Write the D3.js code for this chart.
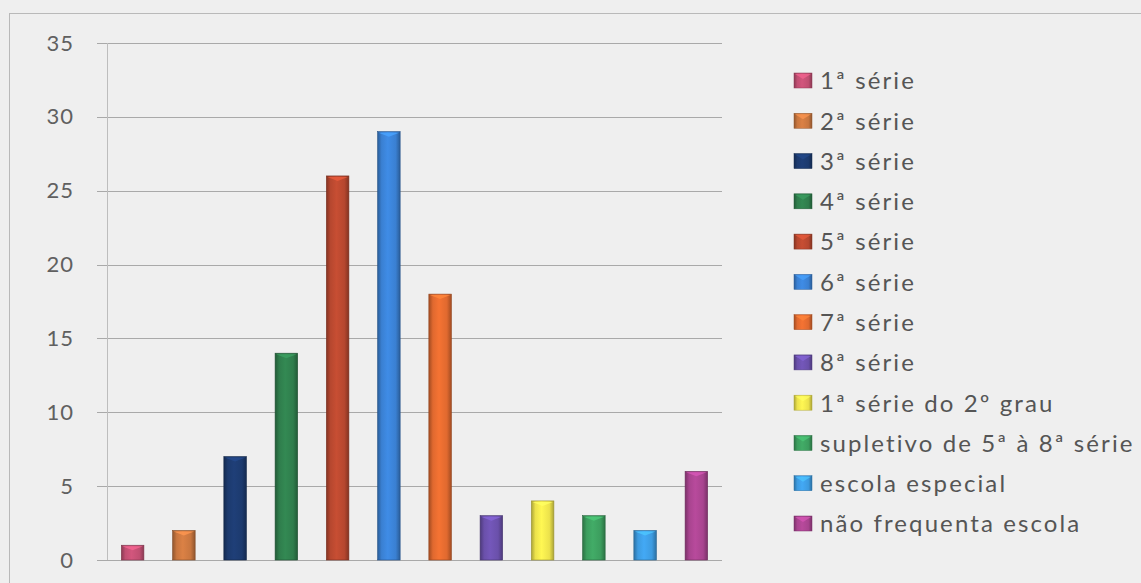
<!DOCTYPE html>
<html>
<head>
<meta charset="utf-8">
<script src="https://cdn.jsdelivr.net/npm/d3@7"></script>
<style>
  html, body { margin: 0; padding: 0; background: #efefef; }
  svg { display: block; }
</style>
</head>
<body>
<svg id="chart" width="1141" height="583"></svg>
<script>
// Categories (school grade) and number of people in each
const categories = [
  "1ª série", "2ª série", "3ª série", "4ª série", "5ª série", "6ª série",
  "7ª série", "8ª série", "1ª série do 2º grau", "supletivo de 5ª à 8ª série",
  "escola especial", "não frequenta escola"
];
const values = [1, 2, 7, 14, 26, 29, 18, 3, 4, 3, 2, 6];
const colors = [
  "#c04f72", "#c8763f", "#1c3a6e", "#2f7d4c", "#b6472f", "#3a80d2",
  "#e0692f", "#6a50aa", "#ece24c", "#3c9d5e", "#3d9be0", "#a8448f"
];
const yTicks = [0, 5, 10, 15, 20, 25, 30, 35];

const svg = d3.select("#chart");
const W = 1141, H = 583;

// Chart frame
svg.append("rect").attr("x", 9.5).attr("y", 13.5)
  .attr("width", W).attr("height", H)
  .attr("fill", "#efefef").attr("stroke", "#b9b9b9").attr("stroke-width", 1);

const plot = { left: 107, right: 722, top: 43, bottom: 560 };

const x = d3.scaleBand().domain(categories)
  .range([plot.left, plot.right]).paddingInner(0.56).paddingOuter(0.28);
const y = d3.scaleLinear().domain([0, 35]).range([plot.bottom, plot.top]);

// Gradients that give each bar a rounded, cylinder-like shading
const defs = svg.append("defs");
colors.forEach((c, i) => {
  const base = d3.color(c);
  const g = defs.append("linearGradient").attr("id", "bar" + i)
    .attr("x1", "0%").attr("x2", "100%").attr("y1", "0%").attr("y2", "0%");
  g.append("stop").attr("offset", "0%").attr("stop-color", base.darker(0.9));
  g.append("stop").attr("offset", "18%").attr("stop-color", base);
  g.append("stop").attr("offset", "45%").attr("stop-color", base.brighter(0.25));
  g.append("stop").attr("offset", "80%").attr("stop-color", base);
  g.append("stop").attr("offset", "100%").attr("stop-color", base.darker(0.9));
});

// Gridlines with small tick stubs to the left of the axis
const grid = svg.append("g");
grid.selectAll("line").data(yTicks).join("line")
  .attr("x1", plot.left - 10).attr("x2", plot.right)
  .attr("y1", d => Math.round(y(d)) + 0.5).attr("y2", d => Math.round(y(d)) + 0.5)
  .attr("stroke", "#a9a9a9").attr("stroke-width", 1);

// Vertical axis line
svg.append("line")
  .attr("x1", plot.left + 0.5).attr("x2", plot.left + 0.5)
  .attr("y1", plot.top).attr("y2", plot.bottom)
  .attr("stroke", "#bdbdbd");

// Tick labels
const yAxis = d3.axisLeft(y).tickValues(yTicks).tickSize(0).tickPadding(33);
const ya = svg.append("g").attr("transform", `translate(${plot.left},0)`).call(yAxis);
ya.select(".domain").remove();
ya.selectAll("text")
  .attr("font-family", "Lato, 'Open Sans', sans-serif")
  .attr("font-size", 22).attr("letter-spacing", 1).attr("fill", "#606060");

// Bars
const bars = svg.append("g");
bars.selectAll("rect.bar").data(values).join("rect")
  .attr("class", "bar")
  .attr("x", (d, i) => x(categories[i]))
  .attr("y", d => y(d))
  .attr("width", x.bandwidth())
  .attr("height", d => y(0) - y(d))
  .attr("fill", (d, i) => `url(#bar${i})`)
  .attr("stroke", (d, i) => d3.color(colors[i]).darker(1.2))
  .attr("stroke-width", 0.6);

// Lighter cap on top of each bar
bars.selectAll("path.cap").data(values).join("path")
  .attr("class", "cap")
  .attr("d", (d, i) => {
    const x0 = x(categories[i]), w = x.bandwidth(), t = y(d);
    return `M${x0 + 1},${t + 1} L${x0 + w - 1},${t + 1} L${x0 + w / 2},${t + 5} Z`;
  })
  .attr("fill", (d, i) => d3.color(colors[i]).brighter(0.7))
  .attr("opacity", 0.8);

// Legend
const legendY = d3.scalePoint().domain(categories).range([80, 523]);
const legend = svg.append("g");
const items = legend.selectAll("g").data(categories).join("g")
  .attr("transform", d => `translate(794,${legendY(d)})`);
items.append("rect")
  .attr("x", 0).attr("y", -7).attr("width", 18).attr("height", 15)
  .attr("fill", (d, i) => `url(#bar${i})`)
  .attr("stroke", (d, i) => d3.color(colors[i]).darker(0.8))
  .attr("stroke-width", 0.5);
items.append("path")
  .attr("d", "M1,-6 L17,-6 L9,-1 Z")
  .attr("fill", (d, i) => d3.color(colors[i]).brighter(0.7))
  .attr("opacity", 0.7);
items.append("text")
  .attr("x", 26).attr("y", 1).attr("dy", "0.35em")
  .attr("font-family", "Lato, 'Open Sans', sans-serif")
  .attr("font-size", 24).attr("letter-spacing", 2.1).attr("fill", "#555")
  .text(d => d);
</script>
</body>
</html>
